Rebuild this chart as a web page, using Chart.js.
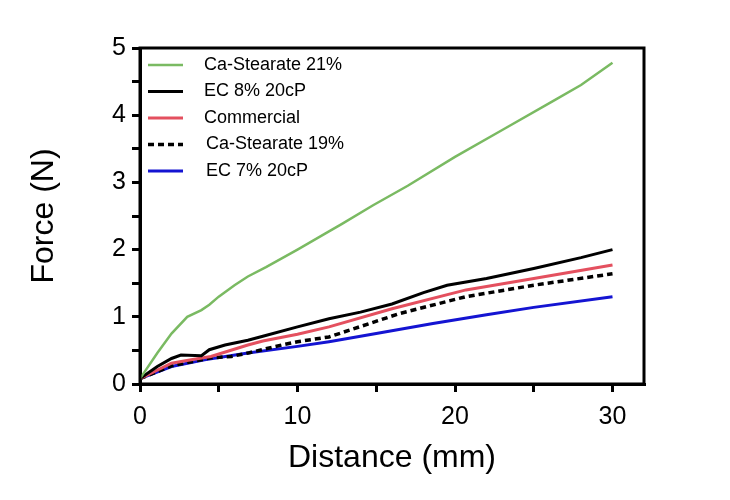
<!DOCTYPE html>
<html>
<head>
<meta charset="utf-8">
<script src="https://cdn.jsdelivr.net/npm/chart.js@4/dist/chart.umd.min.js"></script>
<style>
  html, body { margin: 0; padding: 0; background: #fff; }
  #wrap { width: 730px; height: 500px; position: relative; }
</style>
</head>
<body>
<div id="wrap"><canvas id="c" width="730" height="500"></canvas></div>
<script>
// ---- Data ----
const seriesLabels = ["Ca-Stearate 21%", "EC 8% 20cP", "Commercial", "Ca-Stearate 19%", "EC 7% 20cP"];

const caSt21Dist  = [0, 1.1, 2, 3, 3.9, 4.4, 5.0, 6.0, 6.85, 8, 10, 12, 12.8, 14.8, 17, 20, 23, 26.3, 28, 30];
const caSt21Force = [0.08, 0.46, 0.75, 1.00, 1.10, 1.18, 1.30, 1.47, 1.60, 1.74, 2.00, 2.27, 2.38, 2.66, 2.95, 3.38, 3.78, 4.22, 4.45, 4.78];

const ec8Dist  = [0, 1.1, 2.0, 2.6, 3.9, 4.4, 5.4, 6.85, 7.8, 10, 12, 14, 16, 18, 19.5, 22, 25, 28, 30];
const ec8Force = [0.08, 0.26, 0.38, 0.43, 0.42, 0.51, 0.58, 0.65, 0.71, 0.85, 0.97, 1.07, 1.19, 1.36, 1.47, 1.57, 1.72, 1.88, 2.00];

const commDist  = [0, 2, 3.25, 4.5, 6.85, 7.8, 10, 12, 16, 20.7, 25, 30];
const commForce = [0.08, 0.31, 0.36, 0.41, 0.58, 0.64, 0.74, 0.85, 1.12, 1.40, 1.57, 1.77];

const caSt19Dist  = [0, 2, 4.5, 5.8, 6.85, 9, 10, 12, 16.5, 20.7, 25, 30];
const caSt19Force = [0.08, 0.27, 0.39, 0.41, 0.46, 0.58, 0.63, 0.70, 1.05, 1.30, 1.47, 1.64];

const ec7Dist  = [0, 2, 4.1, 6.85, 10, 12, 15, 18.6, 22, 25, 30];
const ec7Force = [0.08, 0.26, 0.36, 0.46, 0.56, 0.63, 0.75, 0.90, 1.03, 1.14, 1.30];

const xMajorTicks = [0, 10, 20, 30];
const xTickValues = [0, 5, 10, 15, 20, 25, 30];
const yTickLabels = [0, 1, 2, 3, 4, 5];

const FONT = '"Liberation Sans", Arial, Helvetica, sans-serif';

function pts(xs, ys) { return xs.map((x, i) => ({ x: x, y: ys[i] })); }

const datasets = [
  { label: seriesLabels[0], data: pts(caSt21Dist, caSt21Force), borderColor: '#7aba62', borderWidth: 2.5 },
  { label: seriesLabels[1], data: pts(ec8Dist, ec8Force), borderColor: '#000000', borderWidth: 3 },
  { label: seriesLabels[2], data: pts(commDist, commForce), borderColor: '#e4505f', borderWidth: 3 },
  { label: seriesLabels[3], data: pts(caSt19Dist, caSt19Force), borderColor: '#000000', borderWidth: 3.5, borderDash: [6, 4] },
  { label: seriesLabels[4], data: pts(ec7Dist, ec7Force), borderColor: '#1414d2', borderWidth: 3 }
].map(d => Object.assign(d, { showLine: true, pointRadius: 0, fill: false, tension: 0 }));

const framePlugin = {
  id: 'frame',
  afterDraw(chart) {
    const { ctx, chartArea: a } = chart;
    ctx.save();
    ctx.strokeStyle = '#000';
    ctx.lineWidth = 3;
    ctx.beginPath();
    ctx.moveTo(a.left, a.bottom);
    ctx.lineTo(a.left, a.top);
    ctx.lineTo(a.right, a.top);
    ctx.lineTo(a.right, a.bottom);
    ctx.lineTo(a.left, a.bottom);
    ctx.stroke();
    ctx.restore();
  }
};

const legendPlugin = {
  id: 'insideLegend',
  afterDatasetsDraw(chart) {
    const { ctx, chartArea: a } = chart;
    ctx.save();
    ctx.font = '18px ' + FONT;
    ctx.textBaseline = 'middle';
    ctx.fillStyle = '#000';
    chart.data.datasets.forEach((ds, i) => {
      const y = a.top + 17 + i * 26.5;
      const x0 = a.left + 8;
      ctx.strokeStyle = ds.borderColor;
      ctx.lineWidth = ds.borderWidth;
      ctx.setLineDash(ds.borderDash || []);
      ctx.beginPath();
      ctx.moveTo(x0, y);
      ctx.lineTo(x0 + 35, y);
      ctx.stroke();
      ctx.setLineDash([]);
      ctx.fillText(ds.label, a.left + (i >= 3 ? 66 : 64), y);
    });
    ctx.restore();
  }
};

new Chart(document.getElementById('c'), {
  type: 'scatter',
  data: { datasets: datasets },
  options: {
    responsive: false,
    animation: false,
    layout: { padding: { left: 0, top: 48, right: 86, bottom: 0 } },
    plugins: { legend: { display: false }, tooltip: { enabled: false } },
    scales: {
      x: {
        type: 'linear', min: 0, max: 32,
        afterBuildTicks: (s) => { s.ticks = xTickValues.map(v => ({ value: v })); },
        afterFit: (s) => { s.height = 116; },
        ticks: {
          autoSkip: false, maxRotation: 0, padding: 10, color: '#000',
          font: { family: FONT, size: 25 },
          callback: (v) => xMajorTicks.includes(v) ? String(v) : ''
        },
        grid: { display: true, drawOnChartArea: false, drawTicks: true, tickLength: 8, tickWidth: 3, lineWidth: 3, color: '#000' },
        border: { display: true, width: 3, color: '#000' },
        title: { display: true, text: 'Distance (mm)', color: '#000', font: { family: FONT, size: 32 }, padding: { top: 0, bottom: 23 } }
      },
      y: {
        type: 'linear', min: 0, max: 5,
        ticks: {
          stepSize: 0.5, autoSkip: false, padding: 6, color: '#000',
          font: { family: FONT, size: 25 },
          callback: (v) => yTickLabels.includes(v) ? String(v) : ''
        },
        afterFit: (s) => { s.width = 140; },
        grid: { display: true, drawOnChartArea: false, drawTicks: true, tickLength: 8, tickWidth: 3, lineWidth: 3, color: '#000' },
        border: { display: true, width: 3, color: '#000' },
        title: { display: true, text: 'Force (N)', color: '#000', font: { family: FONT, size: 32 }, padding: { top: 25, bottom: 0 } }
      }
    }
  },
  plugins: [framePlugin, legendPlugin]
});
</script>
</body>
</html>
